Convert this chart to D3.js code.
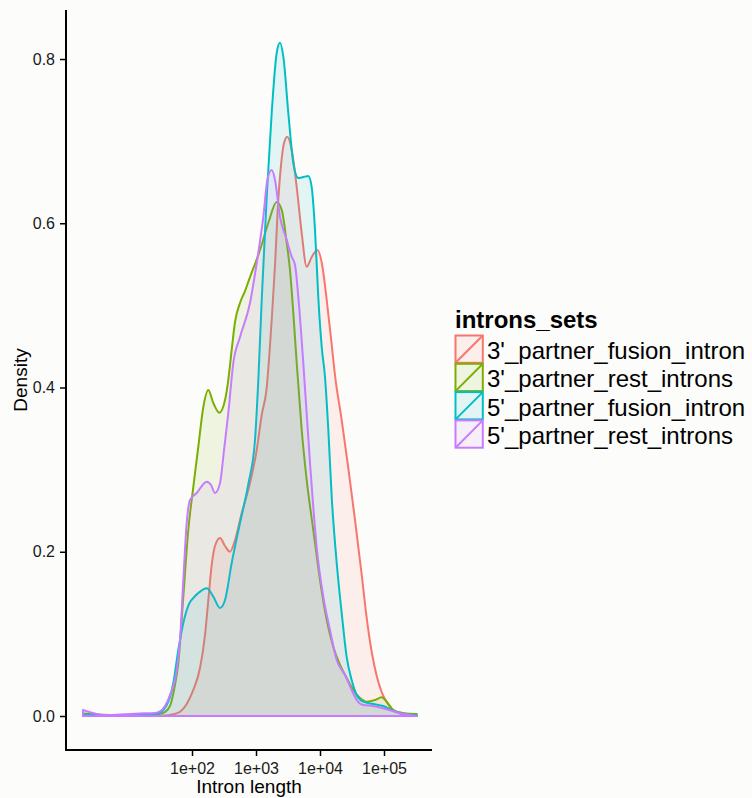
<!DOCTYPE html>
<html>
<head>
<meta charset="utf-8">
<script src="https://cdn.jsdelivr.net/npm/d3@7"></script>
<style>
  body { margin: 0; background: #fcfcfa; }
  svg { display: block; font-family: "Liberation Sans", Arial, sans-serif; }
</style>
</head>
<body>
<svg id="chart" width="752" height="798"></svg>
<script>
// series names and colours (ggplot default hue palette)
var seriesNames = ["3'_partner_fusion_intron", "3'_partner_rest_introns", "5'_partner_fusion_intron", "5'_partner_rest_introns"];
var seriesColors = ["#F8766D", "#7CAE00", "#00BFC4", "#C77CFF"];

// x values are log10(intron length)
var fusion3Log = [0.297, 1.031, 1.578, 1.688, 1.813, 1.917, 2.020, 2.125, 2.203, 2.255, 2.308, 2.359, 2.438, 2.516, 2.594, 2.672, 2.777, 2.906, 3.011, 3.089, 3.167, 3.219, 3.25, 3.297, 3.348, 3.391, 3.438, 3.489, 3.558, 3.636, 3.714, 3.792, 3.870, 3.958, 4.031, 4.105, 4.183, 4.234, 4.339, 4.442, 4.547, 4.652, 4.730, 4.808, 4.886, 4.964, 5.042, 5.145, 5.302, 5.511];
var fusion3Density = [0.0002, 0.0002, 0.0006, 0.0018, 0.0052, 0.0146, 0.0317, 0.0584, 0.0986, 0.1412, 0.1839, 0.2070, 0.2167, 0.2070, 0.2001, 0.2143, 0.2472, 0.2837, 0.3239, 0.3665, 0.3995, 0.4518, 0.4883, 0.5492, 0.6283, 0.6709, 0.6977, 0.7054, 0.6892, 0.6441, 0.5881, 0.5471, 0.5589, 0.5674, 0.5504, 0.5065, 0.4518, 0.4152, 0.3604, 0.3020, 0.2387, 0.1717, 0.1193, 0.0779, 0.0487, 0.0292, 0.0170, 0.0073, 0.0033, 0.0012];

var rest3Log = [0.297, 0.484, 0.719, 1.031, 1.344, 1.5, 1.578, 1.656, 1.719, 1.786, 1.864, 1.942, 2.020, 2.098, 2.177, 2.255, 2.333, 2.427, 2.516, 2.567, 2.620, 2.672, 2.75, 2.828, 2.906, 3.063, 3.192, 3.323, 3.402, 3.480, 3.531, 3.583, 3.636, 3.714, 3.792, 3.895, 4.0, 4.105, 4.208, 4.313, 4.417, 4.520, 4.625, 4.730, 4.859, 4.964, 5.042, 5.145, 5.302, 5.511];
var rest3Density = [0.0030, 0.0018, 0.0012, 0.0012, 0.0018, 0.0027, 0.0049, 0.0122, 0.0317, 0.0645, 0.1449, 0.2265, 0.2788, 0.3276, 0.3763, 0.3970, 0.3811, 0.3693, 0.3848, 0.4091, 0.4457, 0.4798, 0.5029, 0.5175, 0.5345, 0.5674, 0.6003, 0.6259, 0.6161, 0.5760, 0.5431, 0.4907, 0.4298, 0.3483, 0.2874, 0.2265, 0.1656, 0.1169, 0.0840, 0.0621, 0.0463, 0.0317, 0.0219, 0.0174, 0.0195, 0.0228, 0.0174, 0.0073, 0.0033, 0.0024];

var fusion5Log = [0.297, 0.563, 1.031, 1.344, 1.5, 1.552, 1.605, 1.656, 1.708, 1.786, 1.864, 1.969, 2.020, 2.125, 2.230, 2.333, 2.438, 2.516, 2.620, 2.75, 2.880, 2.984, 3.036, 3.089, 3.167, 3.245, 3.323, 3.375, 3.427, 3.505, 3.583, 3.661, 3.739, 3.817, 3.870, 3.922, 3.973, 4.027, 4.078, 4.130, 4.183, 4.261, 4.339, 4.417, 4.495, 4.573, 4.677, 4.833, 4.989, 5.145, 5.302, 5.511];
var fusion5Density = [0.0018, 0.0012, 0.0012, 0.0018, 0.0037, 0.0073, 0.0134, 0.0231, 0.0402, 0.0804, 0.1132, 0.1388, 0.1437, 0.1514, 0.1555, 0.1453, 0.1315, 0.1412, 0.1863, 0.2350, 0.2825, 0.3361, 0.4091, 0.5065, 0.6320, 0.7342, 0.8073, 0.8199, 0.8028, 0.7342, 0.6734, 0.6551, 0.6563, 0.6575, 0.6441, 0.5918, 0.5102, 0.4493, 0.4128, 0.3483, 0.2667, 0.1863, 0.1254, 0.0718, 0.0438, 0.0256, 0.0174, 0.0146, 0.0122, 0.0065, 0.0024, 0.0012];

var rest5Log = [0.297, 0.484, 0.641, 0.875, 1.188, 1.422, 1.5, 1.578, 1.656, 1.761, 1.813, 1.864, 1.917, 1.969, 2.073, 2.230, 2.297, 2.359, 2.438, 2.5, 2.567, 2.645, 2.75, 2.906, 3.011, 3.114, 3.177, 3.245, 3.297, 3.375, 3.480, 3.558, 3.609, 3.661, 3.739, 3.844, 3.948, 4.052, 4.156, 4.261, 4.391, 4.495, 4.573, 4.677, 4.833, 5.042, 5.25, 5.511];
var rest5Density = [0.0073, 0.0030, 0.0012, 0.0018, 0.0030, 0.0037, 0.0055, 0.0122, 0.0256, 0.0560, 0.0925, 0.1656, 0.2350, 0.2630, 0.2715, 0.2853, 0.2813, 0.2715, 0.2837, 0.3239, 0.3689, 0.4298, 0.4615, 0.5029, 0.5516, 0.6077, 0.6527, 0.6648, 0.6527, 0.6077, 0.5799, 0.5592, 0.5495, 0.5105, 0.4298, 0.3081, 0.2058, 0.1449, 0.1047, 0.0682, 0.0499, 0.0317, 0.0195, 0.0134, 0.0122, 0.0082, 0.0033, 0.0];

var xTickValues = [1e2, 1e3, 1e4, 1e5];
var xTickLabels = ["1e+02", "1e+03", "1e+04", "1e+05"];
var yTickValues = [0, 0.2, 0.4, 0.6, 0.8];

var seriesLogs = [fusion3Log, rest3Log, fusion5Log, rest5Log];
var seriesDensities = [fusion3Density, rest3Density, fusion5Density, rest5Density];

var svg = d3.select("#chart");

var x = d3.scaleLog()
  .domain([Math.pow(10, 0.031), Math.pow(10, 5.75)])
  .range([66, 432]);
var y = d3.scaleLinear()
  .domain([-0.0414, 0.8597])
  .range([750, 10]);

var series = seriesNames.map(function(name, i) {
  return {
    name: name,
    color: seriesColors[i],
    values: seriesLogs[i].map(function(v, j) {
      return {len: Math.pow(10, v), d: seriesDensities[i][j]};
    })
  };
});

var area = d3.area()
  .x(function(d) { return x(d.len); })
  .y0(y(0))
  .y1(function(d) { return y(d.d); })
  .curve(d3.curveMonotoneX);

svg.append("g").selectAll("path").data(series).enter()
  .append("path")
  .attr("d", function(d) { return area(d.values) + "Z"; })
  .attr("fill", function(d) { return d.color; })
  .attr("fill-opacity", 0.1)
  .attr("stroke", function(d) { return d.color; })
  .attr("stroke-width", 2)
  .attr("stroke-linejoin", "round");

// axes
var yAxis = d3.axisLeft(y).tickValues(yTickValues).tickFormat(d3.format(".1f")).tickSize(6).tickSizeOuter(0);
var gy = svg.append("g")
  .attr("transform", "translate(66,0)")
  .call(yAxis);
gy.select(".domain").remove();
gy.selectAll(".tick line").attr("stroke", "#000").attr("stroke-width", 1.5);
gy.selectAll(".tick text")
  .attr("x", -11)
  .attr("font-size", 16)
  .attr("font-family", "Liberation Sans, Arial, sans-serif")
  .attr("fill", "#1a1a1a");

var xAxis = d3.axisBottom(x).tickValues(xTickValues)
  .tickFormat(function(d, i) { return xTickLabels[i]; })
  .tickSize(6).tickSizeOuter(0);
var gx = svg.append("g")
  .attr("transform", "translate(0,750)")
  .call(xAxis);
gx.select(".domain").remove();
gx.selectAll(".tick line").attr("stroke", "#000").attr("stroke-width", 1.5);
gx.selectAll(".tick text")
  .attr("y", 24)
  .attr("dy", 0)
  .attr("font-size", 16)
  .attr("font-family", "Liberation Sans, Arial, sans-serif")
  .attr("fill", "#1a1a1a");

// axis lines
svg.append("line").attr("x1", 66).attr("x2", 66).attr("y1", 10).attr("y2", 751)
  .attr("stroke", "#000").attr("stroke-width", 2);
svg.append("line").attr("x1", 65).attr("x2", 432).attr("y1", 750).attr("y2", 750)
  .attr("stroke", "#000").attr("stroke-width", 2);

// axis titles
svg.append("text")
  .attr("x", 249).attr("y", 793)
  .attr("text-anchor", "middle")
  .attr("font-size", 19)
  .text("Intron length");
svg.append("text")
  .attr("transform", "translate(27,380) rotate(-90)")
  .attr("text-anchor", "middle")
  .attr("font-size", 19)
  .text("Density");

// legend
var legend = svg.append("g").attr("transform", "translate(455,0)");
legend.append("text")
  .attr("x", 0).attr("y", 328)
  .attr("font-size", 24)
  .attr("font-weight", "bold")
  .text("introns_sets");

var keySize = 28.3;
var keys = legend.selectAll("g.key").data(series).enter()
  .append("g")
  .attr("class", "key")
  .attr("transform", function(d, i) { return "translate(0," + (335 + i * keySize) + ")"; });
keys.append("rect")
  .attr("x", 0.5).attr("y", 0.5)
  .attr("width", keySize - 1).attr("height", keySize - 1)
  .attr("fill", function(d) { return d.color; })
  .attr("fill-opacity", 0.1)
  .attr("stroke", function(d) { return d.color; })
  .attr("stroke-width", 2);
keys.append("line")
  .attr("x1", 1).attr("y1", keySize - 1)
  .attr("x2", keySize - 1).attr("y2", 1)
  .attr("stroke", function(d) { return d.color; })
  .attr("stroke-width", 2);
keys.append("text")
  .attr("x", 32).attr("y", 24)
  .attr("font-size", 24)
  .text(function(d) { return d.name; });
</script>
</body>
</html>
